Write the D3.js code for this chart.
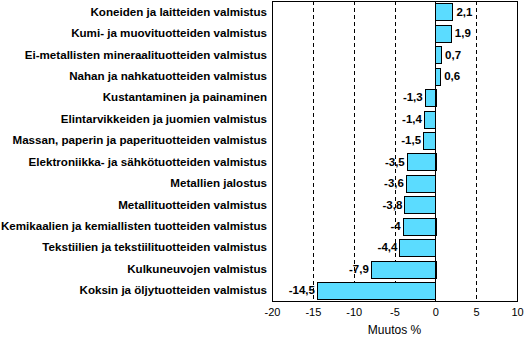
<!DOCTYPE html>
<html>
<head>
<meta charset="utf-8">
<script src="https://cdn.jsdelivr.net/npm/d3@7"></script>
<style>
  body { margin: 0; background: #fff; }
  svg { display: block; font-family: "Liberation Sans", Arial, sans-serif; }
</style>
</head>
<body>
<script>
// Toimialat ja muutos %
const categories = [
  "Koneiden ja laitteiden valmistus",
  "Kumi- ja muovituotteiden valmistus",
  "Ei-metallisten mineraalituotteiden valmistus",
  "Nahan ja nahkatuotteiden valmistus",
  "Kustantaminen ja painaminen",
  "Elintarvikkeiden ja juomien valmistus",
  "Massan, paperin ja paperituotteiden valmistus",
  "Elektroniikka- ja sähkötuotteiden valmistus",
  "Metallien jalostus",
  "Metallituotteiden valmistus",
  "Kemikaalien ja kemiallisten tuotteiden valmistus",
  "Tekstiilien ja tekstiilituotteiden valmistus",
  "Kulkuneuvojen valmistus",
  "Koksin ja öljytuotteiden valmistus"
];
const values = [2.1, 1.9, 0.7, 0.6, -1.3, -1.4, -1.5, -3.5, -3.6, -3.8, -4, -4.4, -7.9, -14.5];
const xTicks = [-20, -15, -10, -5, 0, 5, 10];
const gridValues = [-15, -10, -5, 5];

const width = 530, height = 337;
const margin = { top: 1, right: 13, bottom: 36, left: 272 };

const svg = d3.select("body").append("svg")
  .attr("width", width)
  .attr("height", height);

const x = d3.scaleLinear()
  .domain([-20, 10])
  .range([margin.left, width - margin.right]);

const y = d3.scaleBand()
  .domain(categories)
  .range([margin.top, height - margin.bottom])
  .paddingInner(0.22)
  .paddingOuter(0.11);

const fmt = v => String(v).replace(".", ",");

// dashed grid
svg.append("g")
  .selectAll("line")
  .data(gridValues)
  .join("line")
  .attr("x1", d => Math.round(x(d)) + 0.5)
  .attr("x2", d => Math.round(x(d)) + 0.5)
  .attr("y1", margin.top)
  .attr("y2", height - margin.bottom)
  .attr("stroke", "#000")
  .attr("stroke-dasharray", "4,3");

// bars
svg.append("g")
  .selectAll("rect")
  .data(values)
  .join("rect")
  .attr("x", d => Math.round(x(Math.min(0, d))) + 0.5)
  .attr("y", (d, i) => Math.round(y(categories[i])) + 0.5)
  .attr("width", d => Math.round(Math.abs(x(d) - x(0))))
  .attr("height", Math.round(y.bandwidth()))
  .attr("fill", "#5BDCFF")
  .attr("stroke", "#000")
  .attr("stroke-width", 1);

// zero line
svg.append("line")
  .attr("x1", Math.round(x(0)) + 0.5)
  .attr("x2", Math.round(x(0)) + 0.5)
  .attr("y1", margin.top)
  .attr("y2", height - margin.bottom)
  .attr("stroke", "#000");

// frame
svg.append("rect")
  .attr("x", margin.left + 0.5)
  .attr("y", margin.top + 0.5)
  .attr("width", width - margin.left - margin.right)
  .attr("height", height - margin.top - margin.bottom)
  .attr("fill", "none")
  .attr("stroke", "#000");

// value labels
svg.append("g")
  .selectAll("text")
  .data(values)
  .join("text")
  .attr("x", d => d >= 0 ? x(d) + 4 : x(d) - 2)
  .attr("y", (d, i) => y(categories[i]) + y.bandwidth() / 2)
  .attr("dy", "0.35em")
  .attr("text-anchor", d => d >= 0 ? "start" : "end")
  .attr("font-size", 11.5)
  .attr("font-weight", "bold")
  .text(fmt);

// category labels
svg.append("g")
  .selectAll("text")
  .data(categories)
  .join("text")
  .attr("x", margin.left - 5)
  .attr("y", d => y(d) + y.bandwidth() / 2)
  .attr("dy", "0.35em")
  .attr("text-anchor", "end")
  .attr("font-size", 11.6)
  .attr("font-weight", "bold")
  .text(d => d);

// x axis
const xAxis = svg.append("g")
  .attr("transform", `translate(0,${height - margin.bottom})`)
  .call(d3.axisBottom(x).tickValues(xTicks).tickSize(0).tickPadding(7).tickFormat(d => d));
xAxis.select(".domain").remove();
xAxis.selectAll("text")
  .attr("font-size", 11)
  .attr("font-family", "Liberation Sans, Arial, sans-serif")
  .attr("fill", "#000");

svg.append("text")
  .attr("x", (margin.left + width - margin.right) / 2)
  .attr("y", 334)
  .attr("text-anchor", "middle")
  .attr("font-size", 12)
  .text("Muutos %");
</script>
</body>
</html>
